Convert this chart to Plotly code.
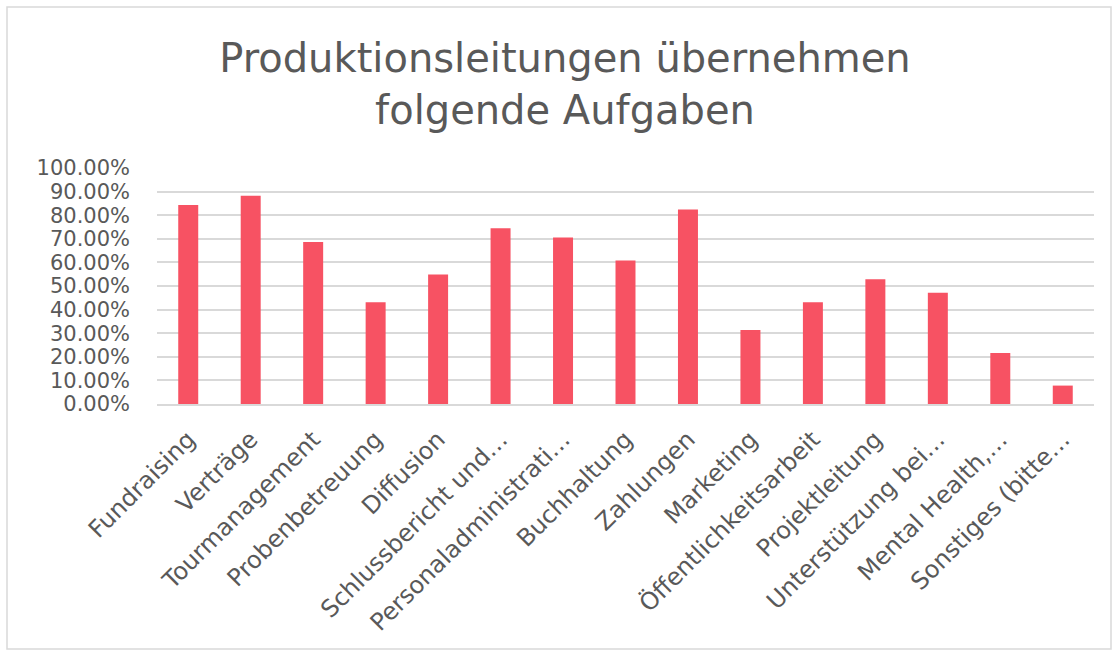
import plotly.graph_objects as go

categories = ["Fundraising", "Verträge", "Tourmanagement", "Probenbetreuung", "Diffusion",
              "Schlussbericht und…", "Personaladministrati…", "Buchhaltung", "Zahlungen",
              "Marketing", "Öffentlichkeitsarbeit", "Projektleitung", "Unterstützung bei…",
              "Mental Health,…", "Sonstiges (bitte…"]
values = [0.843, 0.882, 0.686, 0.431, 0.549, 0.745, 0.706, 0.608, 0.824,
          0.314, 0.431, 0.529, 0.471, 0.216, 0.078]
y_ticks = [0.0, 0.1, 0.2, 0.3, 0.4, 0.5, 0.6, 0.7, 0.8, 0.9, 1.0]
title_text = "Produktionsleitungen übernehmen<br>folgende Aufgaben"

FONT = "DejaVu Sans"
GRAY = "#595959"

fig = go.Figure(go.Bar(x=categories, y=values, marker=dict(color="#F75263", line=dict(width=0))))

W, H = 1118, 650
L, R, T, B = 157, 1094, 168, 404
pw, ph = R - L, B - T

def px(x):
    return (x - L) / pw

def py(y):
    return (B - y) / ph

fig.update_layout(
    width=W, height=H,
    margin=dict(l=L, r=W - R, t=T, b=H - B, pad=0, autoexpand=False),
    paper_bgcolor="white", plot_bgcolor="white",
    bargap=0.68,
    showlegend=False,
    title=dict(text=title_text, x=565 / W, xanchor="center", y=1 - 72 / H, yanchor="middle",
               xref="container", yref="container",
               font=dict(family=FONT, size=40, color=GRAY)),
    font=dict(family=FONT, color=GRAY),
    xaxis=dict(showgrid=False, showline=True, linecolor="#d9d9d9", linewidth=1.5,
               tickangle=-45, tickfont=dict(size=24, color=GRAY), ticks="",
               ticklabelstandoff=10, fixedrange=True, automargin=False),
    yaxis=dict(range=[0, 1.0], tickvals=y_ticks, tickformat=".2%", showgrid=True,
               gridcolor="#d9d9d9", gridwidth=1.5, zeroline=False, showline=False,
               tickfont=dict(size=21, color=GRAY), ticks="", ticklabelstandoff=26,
               fixedrange=True, automargin=False),
    shapes=[dict(type="rect", xref="paper", yref="paper",
                 x0=px(7), x1=px(1111), y0=py(649), y1=py(7),
                 line=dict(color="#d9d9d9", width=1.5), fillcolor="rgba(0,0,0,0)", layer="below")],
)

fig.write_html("out.html", config={"displayModeBar": False},
               post_script="document.body.style.margin='0';")
